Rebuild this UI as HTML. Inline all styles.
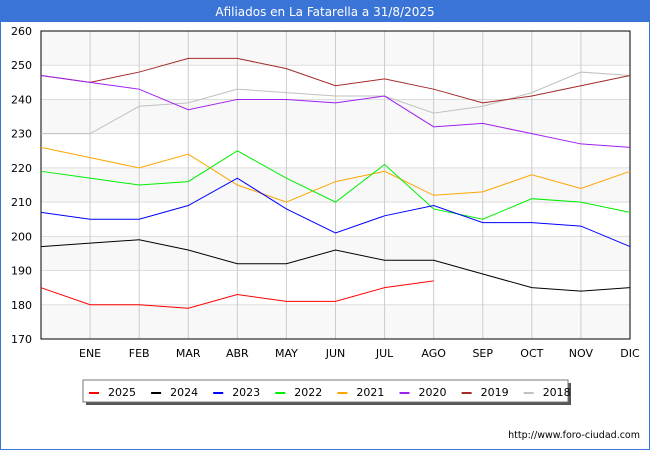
<!DOCTYPE html>
<html><head><meta charset="utf-8"><style>
body{margin:0;background:#fff;font-family:"DejaVu Sans","Liberation Sans",sans-serif}
#wrap{position:relative;width:648px;height:448px;border:1px solid #3a74d6;overflow:hidden}
#title{position:absolute;left:0;top:0;width:648px;height:21px;background:#3a74d6;color:#fff;font-size:12px;line-height:23px;text-align:center}
</style></head><body>
<div id="wrap">
<div id="title">Afiliados en La Fatarella a 31/8/2025</div>
<svg id="chart" width="648" height="448" style="position:absolute;left:0;top:0;font-family:'DejaVu Sans','Liberation Sans',sans-serif"></svg>
</div>
<script>
const months=["","ENE","FEB","MAR","ABR","MAY","JUN","JUL","AGO","SEP","OCT","NOV","DIC"];
const yTicks=[170,180,190,200,210,220,230,240,250,260];
const seriesNames=["2025","2024","2023","2022","2021","2020","2019","2018"];
const seriesColors=["#ff0000","#000000","#0000ff","#00ee00","#ffa500","#a020f0","#a52a2a","#c0c0c0"];
const s2025=[185,180,180,179,183,181,181,185,187];
const s2024=[197,198,199,196,192,192,196,193,193,189,185,184,185];
const s2023=[207,205,205,209,217,208,201,206,209,204,204,203,197];
const s2022=[219,217,215,216,225,217,210,221,208,205,211,210,207];
const s2021=[226,223,220,224,215,210,216,219,212,213,218,214,219];
const s2020=[247,245,243,237,240,240,239,241,232,233,230,227,226];
const s2019=[247,245,248,252,252,249,244,246,243,239,241,244,247];
const s2018=[230,230,238,239,243,242,241,241,236,238,242,248,247];
const allSeries=[s2025,s2024,s2023,s2022,s2021,s2020,s2019,s2018];

const NS="http://www.w3.org/2000/svg";
const svg=document.getElementById('chart');
const L=40,R=629,T=30,B=338,yMin=170,yMax=260;
const xs=i=>L+i*(R-L)/12;
const ys=v=>B-(v-yMin)*(B-T)/(yMax-yMin);
function mk(tag,a,p){const e=document.createElementNS(NS,tag);for(const k in a)e.setAttribute(k,a[k]);(p||svg).appendChild(e);return e;}

for(let i=0;i<yTicks.length-1;i++){
  const b=mk('rect',{x:L,y:ys(yTicks[i+1]),width:R-L,height:ys(yTicks[i])-ys(yTicks[i+1]),fill:(i%2===0)?'#f8f8f8':'#ffffff'});
  
  
}
yTicks.forEach(v=>{
  const g=mk('line',{x1:L,x2:R,y1:ys(v),y2:ys(v),stroke:'#dddddd','stroke-width':1});
  
  
  const t=mk('text',{x:L-9,y:ys(v)+4,'text-anchor':'end','font-size':11,fill:'#000'});
  t.textContent=v;
  
  
});
months.forEach((m,i)=>{
  if(i===0)return;
  const g=mk('line',{x1:xs(i),x2:xs(i),y1:T,y2:B,stroke:'#cccccc','stroke-width':1});
  
  
  const t=mk('text',{x:xs(i),y:B+18,'text-anchor':'middle','font-size':11,fill:'#000'});
  t.textContent=m;
  
  
});
const ax=mk('rect',{x:L,y:T,width:R-L,height:B-T,fill:'none',stroke:'#000','stroke-width':1});



for(let s=allSeries.length-1;s>=0;s--){
  const pts=allSeries[s].map((v,i)=>xs(i)+','+ys(v)).join(' ');
  const p=mk('polyline',{points:pts,fill:'none',stroke:seriesColors[s],'stroke-width':1});
  
  
}

const sh=mk('rect',{x:85,y:382,width:485,height:22,fill:'#555'});


const lb=mk('rect',{x:82,y:379,width:485,height:22,fill:'#fff',stroke:'#777','stroke-width':1});


seriesNames.forEach((n,i)=>{
  const x0=88+i*62.1;
  const g=mk('g',{});
  
  
  mk('line',{x1:x0,x2:x0+10,y1:392,y2:392,stroke:seriesColors[i],'stroke-width':2},g);
  const t=mk('text',{x:x0+19,y:395,'font-size':11,fill:'#000'},g);
  t.textContent=n;
});
const u=mk('text',{x:639,y:437,'text-anchor':'end','font-size':9.5,fill:'#000'});
u.textContent='http://www.foro-ciudad.com';


</script>
</body></html>
